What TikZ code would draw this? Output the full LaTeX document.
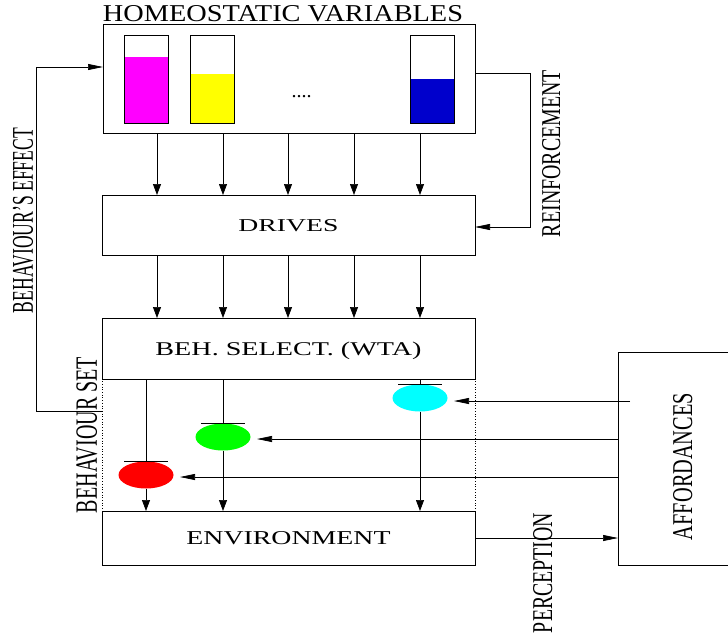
\documentclass[tikz,border=0pt]{standalone}
\usepackage{fontspec}
\usepackage{graphicx}
\setmainfont{Liberation Serif}
\usetikzlibrary{arrows.meta,shapes.geometric}

\definecolor{hvmag}{RGB}{255,0,255}
\definecolor{hvyel}{RGB}{255,255,0}
\definecolor{hvblue}{RGB}{0,0,204}
\definecolor{bred}{RGB}{255,0,0}
\definecolor{bgreen}{RGB}{0,255,0}
\definecolor{bcyan}{RGB}{0,255,255}

\begin{document}
\begin{tikzpicture}[x=1pt,y=-1pt,
  line width=0.7pt,
  box/.style={draw,inner sep=0pt,outer sep=0pt,text depth=0pt},
  lbl/.style={inner sep=0pt,outer sep=0pt,text depth=0pt},
  varr/.style={-{Triangle[length=11pt,width=8pt]}},
  harr/.style={-{Triangle[length=15pt,width=6pt]}},
  beh/.style={ellipse,fill=#1,draw=none,minimum width=55pt,minimum height=27pt,inner sep=0pt,outer sep=0pt},
]
\useasboundingbox (0,0) rectangle (728,637);

% main blocks
\node[box,minimum width=372pt,minimum height=109pt] (homeo) at (289,78.5) {};
\node[box,minimum width=373pt,minimum height=60pt] (drives) at (288.5,225)
  {\resizebox{100pt}{12pt}{DRIVES}};
\node[box,minimum width=373pt,minimum height=61pt] (behsel) at (288.5,348.5)
  {\resizebox{266pt}{13.5pt}{BEH. SELECT. (WTA)}};
\node[box,dotted,minimum width=373pt,minimum height=132pt] (bset) at (288.5,445) {};
\node[box,minimum width=373pt,minimum height=54pt] (env) at (288.5,538)
  {\resizebox{204pt}{13pt}{ENVIRONMENT}};
\node[box,minimum width=130pt,minimum height=213pt] (aff) at (683,458.5) {};

% homeostatic variable gauges
\fill[hvmag] (124,57) rectangle (168,123);
\draw (124,35) rectangle (168,123);
\fill[hvyel] (190,74) rectangle (234,123);
\draw (190,35) rectangle (234,123);
\fill[hvblue] (410,79) rectangle (454,123);
\draw (410,35) rectangle (454,123);
\node[lbl,anchor=base] (dots) at (301.5,97) {\fontsize{20}{20}\selectfont ....};

% texts
\node[lbl,anchor=base] (homeotitle) at (283,21)
  {\resizebox{360pt}{16pt}{HOMEOSTATIC VARIABLES}};
\node[lbl,rotate=90] (beheff) at (23,220.5)
  {\resizebox{185pt}{20pt}{BEHAVIOUR’S EFFECT}};
\node[lbl,rotate=90] (bsetlbl) at (86.5,435)
  {\resizebox{156pt}{20.5pt}{BEHAVIOUR SET}};
\node[lbl,rotate=90] (reinf) at (551,153.5)
  {\resizebox{167pt}{18pt}{REINFORCEMENT}};
\node[lbl,rotate=90] (afflbl) at (682.5,466.5)
  {\resizebox{147pt}{19pt}{AFFORDANCES}};
\node[lbl,rotate=90] (percep) at (542.5,573)
  {\resizebox{120pt}{19pt}{PERCEPTION}};

% drive channels
\foreach \i/\xx in {1/157,2/223,3/288,4/354,5/420}{
  \coordinate (ch\i) at (\xx,0);
  \draw[varr] (homeo.south -| ch\i) -- (drives.north -| ch\i);
  \draw[varr] (drives.south -| ch\i) -- (behsel.north -| ch\i);
}

% behaviours
\node[beh=bred] (bA) at (146,475) {};
\node[beh=bgreen] (bB) at (223,437) {};
\node[beh=bcyan] (bC) at (420,398) {};
\foreach \b in {bA,bB,bC}{
  \draw ([xshift=-22pt]\b.north) -- ([xshift=22pt]\b.north);
  \draw (behsel.south -| \b.north) -- (\b.north);
  \draw[varr] (\b.south) -- (env.north -| \b.south);
}

% affordance signals
\coordinate (yC) at (630,401);
\coordinate (yB) at (0,439);
\coordinate (yA) at (0,477);
\draw[harr,shorten >=6.5pt] (yC) -- (bC.east |- yC);
\draw[harr,shorten >=6.5pt] (aff.west |- yB) -- (bB.east |- yB);
\draw[harr,shorten >=6.5pt] (aff.west |- yA) -- (bA.east |- yA);

% perception
\draw[harr] (env.east) -- (env.east -| aff.west);

% reinforcement loop
\coordinate (rf1) at (530,73);
\coordinate (rf2) at (530,227);
\draw[harr] (homeo.east |- rf1) -- (rf1) -- (rf2) -- (drives.east |- rf2);

% behaviour's effect loop
\coordinate (be1) at (36,411);
\coordinate (be2) at (36,67);
\draw[harr] (bset.west |- be1) -- (be1) -- (be2) -- (homeo.west |- be2);
\end{tikzpicture}
\end{document}
